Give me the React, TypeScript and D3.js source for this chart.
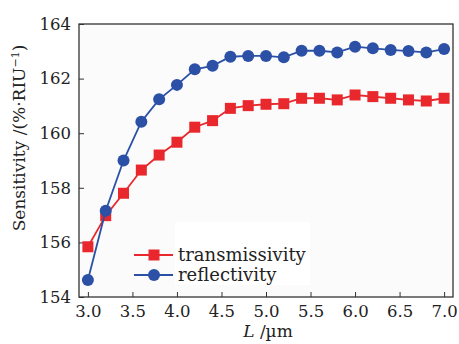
import React, { useEffect, useRef } from 'react';
import * as d3 from 'd3';

const lengths = [3.0, 3.2, 3.4, 3.6, 3.8, 4.0, 4.2, 4.4, 4.6, 4.8, 5.0, 5.2, 5.4, 5.6, 5.8, 6.0, 6.2, 6.4, 6.6, 6.8, 7.0];
const transmissivity = [155.84, 156.98, 157.8, 158.65, 159.2, 159.67, 160.22, 160.46, 160.91, 161.01, 161.06, 161.08, 161.28, 161.28, 161.22, 161.4, 161.34, 161.28, 161.22, 161.18, 161.28];
const reflectivity = [154.62, 157.16, 159.0, 160.42, 161.24, 161.77, 162.34, 162.47, 162.8, 162.83, 162.83, 162.78, 163.02, 163.02, 162.96, 163.17, 163.11, 163.05, 163.01, 162.96, 163.08];
const xTicks = [3.0, 3.5, 4.0, 4.5, 5.0, 5.5, 6.0, 6.5, 7.0];
const yTicks = [154, 156, 158, 160, 162, 164];

const RED = '#e8282c';
const BLUE = '#2b50a6';
const FONT = '"DejaVu Serif", "Liberation Serif", serif';

const App = () => {
  const svgRef = useRef<SVGSVGElement>(null);

  useEffect(() => {
    const svg = d3.select(svgRef.current);
    svg.selectAll('*').remove();

    const left = 79, right = 453, top = 24, bottom = 297;
    const x = d3.scaleLinear().domain([2.9, 7.1]).range([left, right]);
    const y = d3.scaleLinear().domain([154, 164]).range([bottom, top]);

    svg.append('rect')
      .attr('x', left).attr('y', top)
      .attr('width', right - left).attr('height', bottom - top)
      .attr('fill', '#fbfbfb');

    // axes with inward ticks
    const xAxis = svg.append('g')
      .attr('transform', `translate(0,${bottom})`)
      .call(d3.axisBottom(x).tickValues(xTicks).tickSizeInner(-5).tickSizeOuter(0).tickPadding(8).tickFormat(d3.format('.1f')));
    xAxis.select('.domain').remove();
    xAxis.selectAll('line').attr('stroke', '#333');
    xAxis.selectAll('text').attr('font-family', FONT).attr('font-size', 16.5).attr('fill', '#222');

    const yAxis = svg.append('g')
      .attr('transform', `translate(${left},0)`)
      .call(d3.axisLeft(y).tickValues(yTicks).tickSizeInner(-5).tickSizeOuter(0).tickPadding(8).tickFormat(d3.format('d')));
    yAxis.select('.domain').remove();
    yAxis.selectAll('line').attr('stroke', '#333');
    yAxis.selectAll('text').attr('font-family', FONT).attr('font-size', 16.5).attr('fill', '#222');

    svg.append('rect')
      .attr('x', left).attr('y', top)
      .attr('width', right - left).attr('height', bottom - top)
      .attr('fill', 'none').attr('stroke', '#333').attr('stroke-width', 1.3);

    const series = [
      { name: 'transmissivity', values: transmissivity, color: RED, shape: 'square' },
      { name: 'reflectivity', values: reflectivity, color: BLUE, shape: 'circle' },
    ];

    const lineGen = d3.line<number>()
      .x((d, i) => x(lengths[i]))
      .y(d => y(d));

    series.forEach(s => {
      svg.append('path')
        .datum(s.values)
        .attr('fill', 'none')
        .attr('stroke', s.color)
        .attr('stroke-width', 1.8)
        .attr('d', lineGen);
      if (s.shape === 'square') {
        svg.selectAll(null)
          .data(s.values)
          .join('rect')
          .attr('x', (d, i) => x(lengths[i]) - 5.5)
          .attr('y', d => y(d) - 5.5)
          .attr('width', 11).attr('height', 11)
          .attr('fill', s.color);
      } else {
        svg.selectAll(null)
          .data(s.values)
          .join('circle')
          .attr('cx', (d, i) => x(lengths[i]))
          .attr('cy', d => y(d))
          .attr('r', 6)
          .attr('fill', s.color);
      }
    });

    // legend
    const lg = svg.append('g');
    lg.append('rect')
      .attr('x', 175).attr('y', 222).attr('width', 135).attr('height', 63)
      .attr('fill', '#ffffff');
    series.forEach((s, i) => {
      const ly = 255 + i * 20;
      lg.append('line')
        .attr('x1', 134).attr('x2', 173).attr('y1', ly).attr('y2', ly)
        .attr('stroke', s.color).attr('stroke-width', 1.8);
      if (s.shape === 'square') {
        lg.append('rect').attr('x', 154 - 5.5).attr('y', ly - 5.5).attr('width', 11).attr('height', 11).attr('fill', s.color);
      } else {
        lg.append('circle').attr('cx', 154).attr('cy', ly).attr('r', 6).attr('fill', s.color);
      }
      lg.append('text')
        .attr('x', 178).attr('y', ly + 6)
        .attr('font-family', FONT).attr('font-size', 18).attr('fill', '#222')
        .text(s.name);
    });

    // axis titles
    const xt = svg.append('text')
      .attr('x', 268).attr('y', 337)
      .attr('text-anchor', 'middle')
      .attr('font-family', FONT).attr('font-size', 17).attr('fill', '#222');
    xt.append('tspan').attr('font-style', 'italic').text('L');
    xt.append('tspan').text(' /\u00b5m');

    const yt = svg.append('text')
      .attr('transform', 'translate(25,138) rotate(-90)')
      .attr('text-anchor', 'middle')
      .attr('font-family', FONT).attr('font-size', 17).attr('fill', '#222');
    yt.append('tspan').text('Sensitivity /(%\u00b7RIU');
    yt.append('tspan').attr('dy', -6).attr('font-size', 11).text('\u22121');
    yt.append('tspan').attr('dy', 6).text(')');
  }, []);

  return (
    <svg ref={svgRef} width={459} height={344} style={{ position: 'absolute', left: 0, top: 0, background: '#fff' }} />
  );
};

export default App;
